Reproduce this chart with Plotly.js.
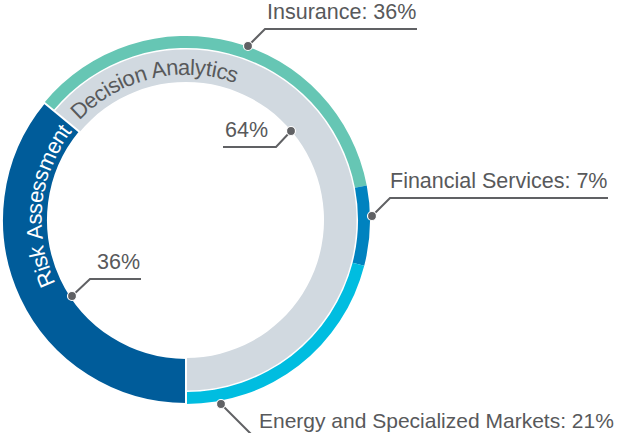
<!DOCTYPE html>
<html>
<head>
<meta charset="utf-8">
<script src="https://cdn.plot.ly/plotly-3.0.1.min.js"></script>
<style>
  html, body { margin: 0; padding: 0; background: #fff; }
  #chart { width: 618px; height: 433px; }
</style>
</head>
<body>
<div id="chart"></div>
<script>
// ---- Data ----
const segments = ['Decision Analytics', 'Risk Assessment'];
const segmentValues = [64, 36];
const subSegments = ['Insurance', 'Financial Services', 'Energy and Specialized Markets'];
const subValues = [36, 7, 21];

// ---- Styling / geometry ----
const W = 618, H = 433;
const CX = 186, CY = 220;       // donut centre (px)
const R_OUT = 184;              // outer radius
const R_SUBIN = 172;            // inner radius of thin sub-segment ring
const R_GRAY = 170.5;           // outer radius of grey ring
const R_HOLE = 138;             // hole radius
const FONT = '"Liberation Sans", Arial, Helvetica, sans-serif';
const LABEL_SIZE = 21.5;
const CURVE_SIZE = 22;
const TXT = '#58595b';
const LINE = '#606164';
const segColors = ['#d1d9e0', '#005c9a'];
const subColors = ['#66c6b4', '#0082bf', '#00bde0'];
const NONE = 'rgba(0,0,0,0)';

const px = x => x / W;
const py = y => 1 - y / H;
function domainFor(r) {
  return { x: [px(CX - r), px(CX + r)], y: [py(CY + r), py(CY - r)] };
}
// Decision Analytics starts after Risk Assessment (which ends at 6 o'clock)
const rotation = 180 + 360 * segmentValues[1] / 100;

const base = { type: 'pie', sort: false, direction: 'clockwise', rotation: rotation,
               textinfo: 'none', hoverinfo: 'skip', showlegend: false };

const traces = [
  // thin outer ring: sub-segments of Decision Analytics
  Object.assign({}, base, {
    labels: subSegments.concat([segments[1]]),
    values: subValues.concat([segmentValues[1]]),
    domain: domainFor(R_OUT), hole: R_SUBIN / R_OUT,
    marker: { colors: subColors.concat([NONE]), line: { width: 0 } }
  }),
  // grey inner ring for Decision Analytics
  Object.assign({}, base, {
    labels: segments, values: segmentValues,
    domain: domainFor(R_GRAY), hole: R_HOLE / R_GRAY,
    marker: { colors: [segColors[0], NONE], line: { width: 0 } }
  }),
  // full-thickness Risk Assessment
  Object.assign({}, base, {
    labels: segments, values: segmentValues,
    domain: domainFor(R_OUT), hole: R_HOLE / R_OUT,
    marker: { colors: [NONE, segColors[1]], line: { color: [NONE, '#ffffff'], width: [0, 2] } }
  })
];

// ---- Curved labels (per-character annotations) ----
const cv = document.createElement('canvas').getContext('2d');
function curvedText(str, centerDeg, r, size, color) {
  cv.font = size + 'px ' + FONT;
  const widths = Array.from(str).map(ch => cv.measureText(ch).width);
  const total = widths.reduce((a, b) => a + b, 0);
  let s = -total / 2;
  const out = [];
  Array.from(str).forEach((ch, i) => {
    const mid = s + widths[i] / 2;
    s += widths[i];
    if (ch === ' ') return;
    const th = centerDeg + (mid / r) * 180 / Math.PI;
    const rad = th * Math.PI / 180;
    let ang = ((th % 360) + 360) % 360;
    if (ang > 180) ang -= 360;
    out.push({
      text: ch, xref: 'paper', yref: 'paper',
      x: px(CX + r * Math.sin(rad)), y: py(CY - r * Math.cos(rad)),
      xanchor: 'center', yanchor: 'middle', showarrow: false, textangle: ang,
      font: { family: FONT, size: size, color: color }
    });
  });
  return out;
}

// ---- Leader-line labels ----
// dot, elbow, line end, text anchor (px), text anchor side, font size
const callouts = [
  { text: subSegments[0] + ': ' + subValues[0] + '%', dot: [248, 46], elbow: [265, 29], end: [417, 29], tx: 418, ty: 26, xa: 'right', fs: LABEL_SIZE },
  { text: segmentValues[0] + '%', dot: [291, 131], elbow: [276, 147], end: [223, 147], tx: 223, ty: 144, xa: 'left', fs: LABEL_SIZE },
  { text: subSegments[1] + ': ' + subValues[1] + '%', dot: [372, 216], elbow: [390, 198], end: [608, 198], tx: 609, ty: 195, xa: 'right', fs: LABEL_SIZE },
  { text: segmentValues[1] + '%', dot: [72, 296], elbow: [90, 279], end: [141, 279], tx: 142, ty: 276, xa: 'right', fs: LABEL_SIZE },
  { text: subSegments[2] + ': ' + subValues[2] + '%', dot: [221, 404], elbow: [252, 435], end: [252, 435], tx: 257, ty: 434, xa: 'left', fs: 21 }
];

const shapes = [];
const annotations = [];
callouts.forEach(c => {
  shapes.push({
    type: 'path', xref: 'paper', yref: 'paper',
    path: 'M' + px(c.dot[0]) + ',' + py(c.dot[1]) + ' L' + px(c.elbow[0]) + ',' + py(c.elbow[1]) +
          ' L' + px(c.end[0]) + ',' + py(c.end[1]),
    line: { color: LINE, width: 2 }
  });
  const dr = 4.5;
  shapes.push({
    type: 'circle', xref: 'paper', yref: 'paper',
    x0: px(c.dot[0] - dr), x1: px(c.dot[0] + dr), y0: py(c.dot[1] + dr), y1: py(c.dot[1] - dr),
    fillcolor: LINE, line: { color: '#ffffff', width: 1.2 }
  });
  annotations.push({
    text: c.text, xref: 'paper', yref: 'paper', x: px(c.tx), y: py(c.ty),
    xanchor: c.xa, yanchor: 'bottom', showarrow: false,
    font: { family: FONT, size: c.fs, color: TXT }
  });
});

const allAnn = annotations
  .concat(curvedText(segments[0], -13.5, 153, CURVE_SIZE, TXT))
  .concat(curvedText(segments[1], 276, 152, CURVE_SIZE, '#ffffff'));

const layout = {
  width: W, height: H,
  margin: { l: 0, r: 0, t: 0, b: 0 },
  paper_bgcolor: '#ffffff', plot_bgcolor: '#ffffff',
  showlegend: false,
  shapes: shapes,
  annotations: allAnn
};

Plotly.newPlot('chart', traces, layout, { staticPlot: true, displayModeBar: false });
</script>
</body>
</html>
